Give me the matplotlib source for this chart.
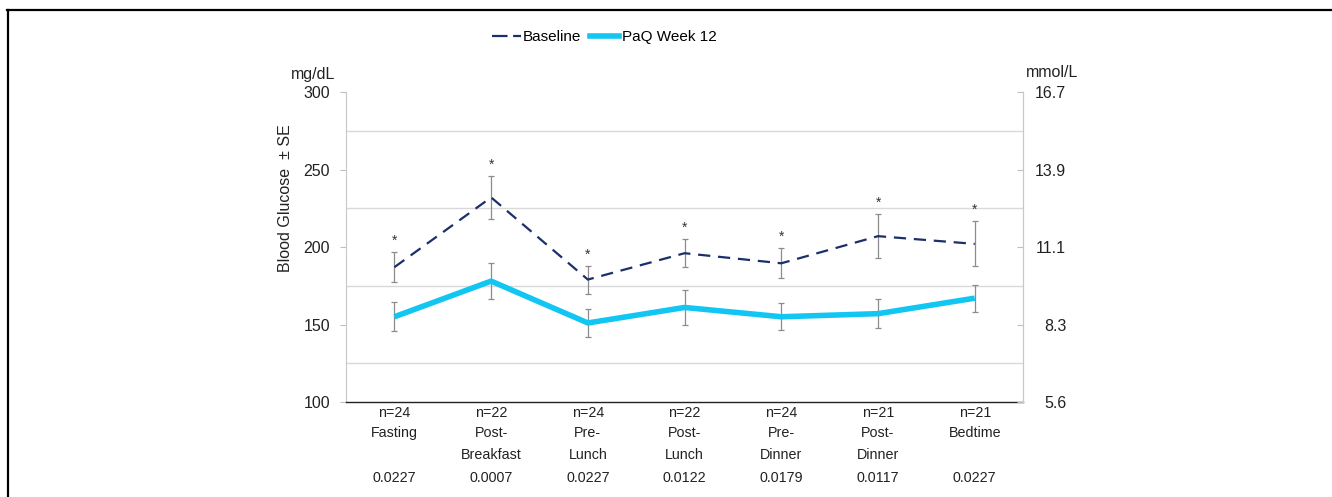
import matplotlib
matplotlib.use("Agg")
import matplotlib.pyplot as plt
from matplotlib.lines import Line2D

plt.rcParams['font.family'] = ['Liberation Sans', 'DejaVu Sans']

# data
categories = ["Fasting", "Post-\nBreakfast", "Pre-\nLunch", "Post-\nLunch",
              "Pre-\nDinner", "Post-\nDinner", "Bedtime"]
n_values = [24, 22, 24, 22, 24, 21, 21]
p_values = ["0.0227", "0.0007", "0.0227", "0.0122", "0.0179", "0.0117", "0.0227"]
baseline = [187, 232, 179, 196, 189.5, 207, 202]
baseline_se = [9.6, 13.7, 9.0, 9.2, 9.8, 14.3, 14.5]
week12 = [155, 178, 151, 161, 155, 157, 167]
week12_se = [9.3, 11.7, 9.0, 11.0, 8.7, 9.2, 8.8]
mgdl_ticks = [100, 150, 200, 250, 300]
mmol_labels = ["5.6", "8.3", "11.1", "13.9", "16.7"]
grid_levels = [125, 175, 225, 275]

navy = '#1b2f6a'
cyan = '#12c6f3'
grey = '#8c8c8c'
under_size = 10.3

fig = plt.figure(figsize=(13.32, 4.97), dpi=100)
ax = fig.add_axes([0.2598, 0.1911, 0.5083, 0.6238])
x = list(range(len(categories)))

# gridlines at the in-between levels
for g in grid_levels:
    ax.axhline(g, color='#d9d9d9', lw=1.0, zorder=0)

# error bars
ax.errorbar(x, baseline, yerr=baseline_se, fmt='none', ecolor=grey,
            elinewidth=0.9, capsize=2.5, capthick=0.9, zorder=2)
ax.errorbar(x, week12, yerr=week12_se, fmt='none', ecolor=grey,
            elinewidth=0.9, capsize=2.5, capthick=0.9, zorder=2)

ax.plot(x, baseline, color=navy, lw=1.6, dashes=(5.5, 3.5), label='Baseline', zorder=3)
ax.plot(x, week12, color=cyan, lw=4, solid_capstyle='butt', label='PaQ Week 12', zorder=3)

# significance asterisks
for xi, b, s in zip(x, baseline, baseline_se):
    ax.annotate('*', (xi, b + s), xytext=(0, 3), textcoords='offset points',
                ha='center', va='bottom', fontsize=10, color='#333333')

ax.set_xlim(-0.5, len(categories) - 0.5)
ax.set_ylim(100, 300)
ax.set_yticks(mgdl_ticks)
ax.tick_params(axis='y', direction='out', length=4.5, width=0.8, color='#bfbfbf',
               labelsize=11.5, pad=7, labelcolor='#222222')
ax.tick_params(axis='x', length=0, labelbottom=False)
ax.spines['top'].set_visible(False)
ax.spines['left'].set_color('#c8c8c8')
ax.spines['right'].set_color('#c8c8c8')
ax.spines['bottom'].set_color('#222222')
ax.spines['bottom'].set_linewidth(1.0)

ax2 = ax.twinx()
ax2.set_ylim(100, 300)
ax2.set_yticks(mgdl_ticks)
ax2.set_yticklabels(mmol_labels)
ax2.tick_params(axis='y', direction='in', length=4.5, width=0.8, color='#bfbfbf',
                labelsize=11.5, pad=31, labelcolor='#222222')
for lab in ax2.get_yticklabels():
    lab.set_horizontalalignment('right')
for side in ['top', 'left', 'bottom']:
    ax2.spines[side].set_visible(False)
ax2.spines['right'].set_color('#c8c8c8')

# labels below the x axis
tr = ax.get_xaxis_transform()
for xi, cat, n, p in zip(x, categories, n_values, p_values):
    ax.text(xi, -0.048, f"n={n}", transform=tr, ha='center', va='baseline',
            fontsize=under_size, color='#222222')
    for k, line in enumerate(cat.split('\n')):
        ax.text(xi, -0.113 - 0.072 * k, line, transform=tr, ha='center',
                va='baseline', fontsize=under_size, color='#222222')
    ax.text(xi, -0.258, p, transform=tr, ha='center', va='baseline',
            fontsize=under_size, color='#222222')

# axis titles
fig.text(313 / 1332, 1 - 74 / 497, 'mg/dL', ha='center', va='center', fontsize=11.5,
         color='#222222')
fig.text(1052 / 1332, 1 - 72 / 497, 'mmol/L', ha='center', va='center', fontsize=11.5,
         color='#222222')
fig.text(285 / 1332, 1 - 198 / 497, 'Blood Glucose  \u00b1 SE', rotation=90,
         ha='center', va='center', fontsize=11.5, color='#222222')

# legend
fig.legend(handles=[Line2D([], [], color=navy, lw=1.6, dashes=(7, 2.5, 2.5, 0)),
                    Line2D([], [], color=cyan, lw=4)],
           labels=['Baseline', 'PaQ Week 12'], ncol=2, loc='center',
           bbox_to_anchor=(604 / 1332, 1 - 37 / 497), frameon=False,
           fontsize=11, handlelength=1.9, handletextpad=0.15, columnspacing=0.6)

# partial frame around the figure
fig.add_artist(Line2D([7 / 1332, 1.0], [1 - 9.5 / 497, 1 - 9.5 / 497],
                      transform=fig.transFigure, color='black', lw=1.6))
fig.add_artist(Line2D([7.5 / 1332, 7.5 / 1332], [0, 1 - 9.5 / 497],
                      transform=fig.transFigure, color='black', lw=1.6))

fig.savefig('out.png', dpi=100, facecolor='white')
